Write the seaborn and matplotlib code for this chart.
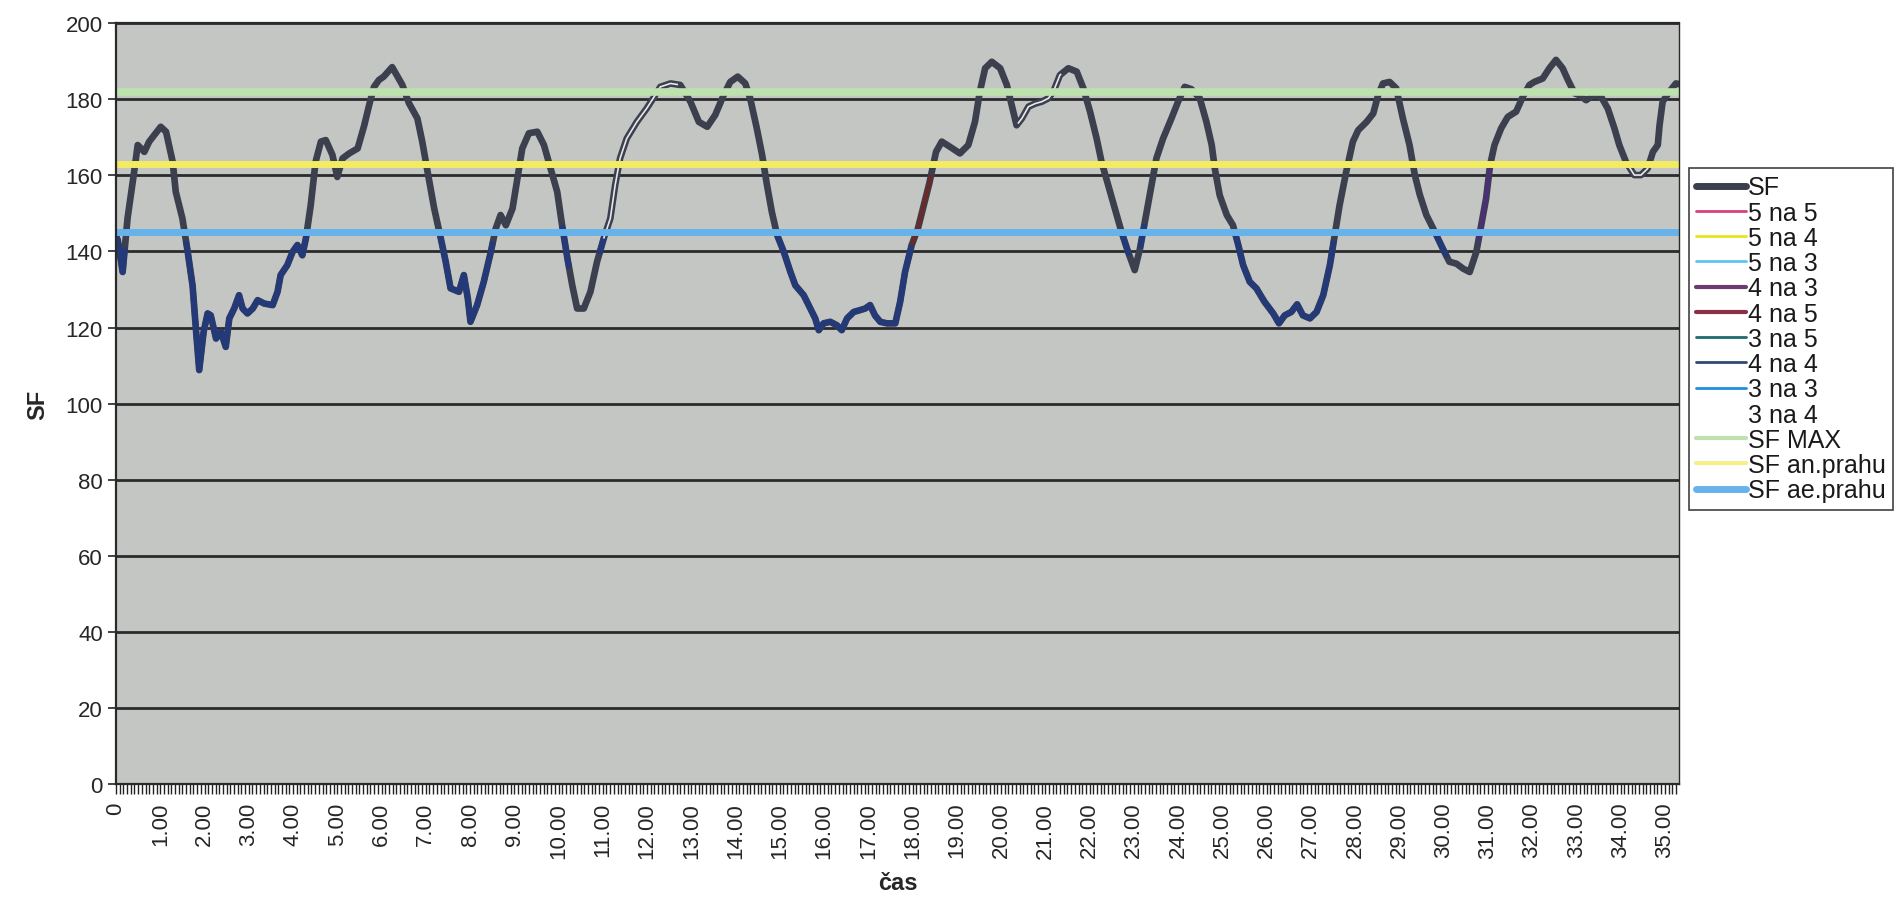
import numpy as np
import pandas as pd
import matplotlib
matplotlib.use("Agg")
import matplotlib.pyplot as plt
from matplotlib.lines import Line2D
from matplotlib.ticker import MultipleLocator
import seaborn as sns

# ---------------- data ----------------
time_min = [
    0.00, 0.04, 0.15, 0.26, 0.41, 0.49, 0.64, 0.75, 1.01, 1.13, 1.28, 1.35, 1.50, 1.62, 1.73, 1.81,
    1.88, 1.98, 2.07, 2.14, 2.26, 2.37, 2.48, 2.56, 2.67, 2.78, 2.86, 2.97, 3.09, 3.20, 3.35, 3.54,
    3.65, 3.72, 3.87, 3.99, 4.10, 4.21, 4.29, 4.40, 4.51, 4.63, 4.74, 4.89, 5.00, 5.12, 5.27, 5.46,
    5.61, 5.72, 5.83, 5.94, 6.05, 6.24, 6.47, 6.62, 6.81, 6.92, 7.04, 7.19, 7.34, 7.45, 7.56, 7.75,
    7.86, 7.95, 8.01, 8.16, 8.31, 8.47, 8.58, 8.69, 8.81, 8.96, 9.07, 9.18, 9.33, 9.52, 9.67, 9.82,
    9.97, 10.08, 10.20, 10.31, 10.42, 10.57, 10.72, 10.87, 11.02, 11.17, 11.28, 11.39, 11.54, 11.77,
    11.99, 12.15, 12.30, 12.53, 12.75, 12.98, 13.17, 13.36, 13.54, 13.73, 13.88, 14.05, 14.22, 14.33,
    14.48, 14.60, 14.71, 14.82, 14.94, 15.09, 15.24, 15.35, 15.54, 15.69, 15.80, 15.88, 15.99, 16.14,
    16.29, 16.40, 16.52, 16.67, 16.82, 16.93, 17.04, 17.15, 17.27, 17.42, 17.61, 17.72, 17.83, 17.98,
    18.12, 18.25, 18.38, 18.47, 18.53, 18.66, 18.85, 19.07, 19.26, 19.41, 19.52, 19.64, 19.79, 19.98,
    20.13, 20.24, 20.35, 20.47, 20.62, 20.77, 20.92, 21.07, 21.18, 21.33, 21.52, 21.71, 21.86, 22.01,
    22.16, 22.27, 22.42, 22.57, 22.72, 22.87, 23.02, 23.14, 23.25, 23.40, 23.51, 23.66, 23.85, 24.00,
    24.15, 24.30, 24.49, 24.64, 24.76, 24.83, 24.94, 25.10, 25.24, 25.36, 25.47, 25.62, 25.77, 25.95,
    26.15, 26.28, 26.41, 26.56, 26.69, 26.82, 26.98, 27.13, 27.28, 27.43, 27.54, 27.65, 27.80, 27.95,
    28.07, 28.26, 28.41, 28.52, 28.63, 28.78, 28.93, 29.08, 29.23, 29.35, 29.46, 29.61, 29.80, 29.98,
    30.13, 30.29, 30.44, 30.59, 30.74, 30.85, 30.96, 31.05, 31.15, 31.30, 31.45, 31.64, 31.79, 31.94,
    32.05, 32.24, 32.39, 32.54, 32.69, 32.81, 32.96, 33.07, 33.22, 33.37, 33.56, 33.71, 33.86, 33.97,
    34.12, 34.31, 34.46, 34.61, 34.73, 34.84, 34.88, 34.95, 35.10, 35.25, 35.33,
]
sf_values = [
    144.0, 143.0, 134.6, 148.7, 161.0, 168.0, 166.2, 168.9, 172.8, 171.5, 163.6, 155.7, 148.7, 139.9, 131.0, 118.9,
    108.8, 118.9, 123.7, 123.2, 117.1, 118.9, 114.9, 122.4, 125.0, 128.5, 125.0, 123.7, 125.0, 127.2, 126.3, 125.9,
    129.4, 133.8, 136.4, 139.9, 141.7, 139.0, 143.4, 152.2, 163.6, 168.9, 169.3, 165.4, 159.6, 164.5, 165.8, 167.1,
    173.2, 178.5, 183.3, 185.1, 186.0, 188.5, 183.8, 179.0, 175.0, 168.9, 161.0, 151.3, 143.4, 137.3, 130.3, 129.4,
    133.8, 127.6, 121.5, 125.9, 132.0, 139.9, 146.0, 149.6, 146.9, 151.3, 159.2, 167.1, 171.1, 171.5, 168.0, 161.8,
    155.7, 146.9, 138.2, 131.1, 125.0, 125.0, 129.4, 137.3, 143.4, 148.7, 157.5, 164.5, 169.7, 174.1,
    177.6, 180.5, 183.3, 184.2, 183.8, 179.4, 174.1, 172.8, 175.9, 181.1, 184.6, 186.0, 184.2, 180.3,
    172.4, 165.4, 157.5, 150.4, 144.3, 139.9, 134.6, 131.1, 128.5, 125.0, 122.4, 119.3, 121.1, 121.5,
    120.6, 119.3, 122.4, 124.1, 124.6, 125.0, 125.9, 123.2, 121.5, 121.1, 121.1, 126.8, 134.6, 141.7,
    146.0, 152.0, 158.0, 163.0, 166.2, 168.9, 167.5, 165.8, 168.0, 174.1, 182.0, 188.2, 189.9, 188.2,
    183.8, 178.5, 173.2, 175.0, 178.1, 178.9, 179.4, 180.3, 182.0, 186.4, 188.2, 187.3, 182.9, 176.8,
    169.7, 163.6, 157.5, 151.3, 145.2, 139.9, 135.1, 140.8, 147.8, 157.5, 164.5, 169.7, 175.0, 179.4,
    183.3, 182.7, 180.3, 174.1, 168.0, 161.8, 154.8, 149.6, 146.9, 141.7, 136.4, 132.0, 130.3, 126.8,
    123.7, 121.1, 123.2, 124.1, 126.1, 123.2, 122.4, 124.1, 128.5, 136.4, 144.3, 152.2, 161.0, 168.9,
    171.9, 174.1, 176.3, 181.1, 184.2, 184.6, 182.9, 175.0, 168.0, 160.1, 155.0, 149.6, 145.2, 140.8,
    137.3, 136.8, 135.5, 134.6, 139.9, 146.9, 153.9, 162.7, 168.0, 172.4, 175.4, 176.8, 180.7, 183.8,
    184.6, 185.5, 188.2, 190.4, 188.2, 185.1, 181.6, 181.1, 179.8, 181.0, 180.7, 177.6, 172.4, 168.0,
    163.6, 160.1, 160.1, 161.8, 166.2, 168.0, 173.2, 179.4, 182.0, 184.2, 184.0,
]

sf_max = 182.0
sf_an_prahu = 163.0
sf_ae_prahu = 145.0

# time ranges (min) where the zone series overlay the SF curve
zone_4na4 = [(0.00, 0.20), (1.58, 4.32), (7.33, 8.52), (10.08, 10.24), (10.92, 11.03),
             (14.94, 17.98), (22.72, 22.90), (23.14, 23.24), (25.28, 27.52), (29.82, 30.08)]
zone_4na5 = [(17.98, 18.42)]
zone_4na3 = [(30.78, 31.06)]
zone_3na4 = [(11.02, 12.70), (20.38, 21.36), (34.12, 34.62)]

x_tick_labels = ["0"] + [f"{i}.00" for i in range(1, 36)]
legend_labels = ["SF", "5 na 5", "5 na 4", "5 na 3", "4 na 3", "4 na 5", "3 na 5",
                 "4 na 4", "3 na 3", "3 na 4", "SF MAX", "SF an.prahu", "SF ae.prahu"]

# ---------------- style ----------------
sns.set_style("white")
plt.rcParams["font.family"] = ["Liberation Sans", "DejaVu Sans"]

C_SF = "#3b3f4e"
C_BG = "#c4c6c4"
C_GRID = "#2b2b2e"
C_MAX = "#bde2ae"
C_AN = "#f3ec62"
C_AE = "#66b3ec"
C_4NA4 = "#243a78"
C_4NA5 = "#6b2a2a"
C_4NA3 = "#4d2f78"

legend_colors = [C_SF, "#d6417e", "#e6e61c", "#5cc6f0", "#6a3d72", "#8a3048", "#1f6a6a",
                 "#2f4a70", "#1f8fe0", "#ffffff", C_MAX, "#f6f08a", C_AE]
legend_widths = [5, 2, 2, 2, 3, 3, 2, 2, 2, 2, 3, 3, 5]

df = pd.DataFrame({"čas": time_min, "SF": sf_values})

fig = plt.figure(figsize=(19.02, 9.03), dpi=100)
ax = fig.add_axes([0.061, 0.131, 0.822, 0.842])
ax.set_facecolor(C_BG)

# gridlines
for yv in range(20, 201, 20):
    ax.axhline(yv, color=C_GRID, lw=2.0, zorder=1)

# main SF line
sns.lineplot(data=df, x="čas", y="SF", ax=ax, color=C_SF, lw=4.8, zorder=3,
             legend=False, solid_capstyle="round", solid_joinstyle="round")

t = np.array(time_min)
v = np.array(sf_values)


def overlay(ranges, color, lw, z=4):
    for a, b in ranges:
        m = (t > a) & (t < b)
        xs = np.concatenate([[a], t[m], [b]])
        ys = np.concatenate([[np.interp(a, t, v)], v[m], [np.interp(b, t, v)]])
        ax.plot(xs, ys, color=color, lw=lw, zorder=z, solid_capstyle="butt")


overlay(zone_4na4, C_4NA4, 4.2)
overlay(zone_4na5, C_4NA5, 3.0)
overlay(zone_4na3, C_4NA3, 3.0)
overlay(zone_3na4, "#e8e8e8", 1.2)

# threshold lines
ax.axhline(sf_max, color=C_MAX, lw=5.5, zorder=5)
ax.axhline(sf_an_prahu, color=C_AN, lw=5.0, zorder=5)
ax.axhline(sf_ae_prahu, color=C_AE, lw=5.0, zorder=5)

# axes
ax.set_xlim(0, 35.33)
ax.set_ylim(0, 200)
ax.set_yticks(range(0, 201, 20))
ax.set_xticks(range(0, 36))
ax.set_xticklabels(x_tick_labels, rotation=90)
ax.xaxis.set_minor_locator(MultipleLocator(1 / 12))
ax.tick_params(axis="x", which="both", direction="out", length=7, width=1, color="#222222",
               labelsize=16, pad=6, bottom=True)
ax.tick_params(axis="y", which="major", direction="out", length=6, width=1.2, color="#222222",
               labelsize=16, left=True)
for s in ax.spines.values():
    s.set_color("#2a2a2a")
    s.set_linewidth(1.6)
    s.set_zorder(6)
ax.spines["right"].set_linewidth(1.0)

ax.set_xlabel("čas", fontsize=17, fontweight="bold", labelpad=10)
ax.set_ylabel("SF", fontsize=17, fontweight="bold", labelpad=12)

# legend
handles = [Line2D([0], [0], color=c, lw=w) for c, w in zip(legend_colors, legend_widths)]
leg = fig.legend(handles, legend_labels, loc="upper left", bbox_to_anchor=(0.888, 0.813),
                 frameon=True, fancybox=False, fontsize=18, handlelength=2.0,
                 handletextpad=0.06, labelspacing=0.05, borderpad=0.3, borderaxespad=0)
leg.get_frame().set_edgecolor("#111111")
leg.get_frame().set_linewidth(1.2)
for txt in leg.get_texts():
    txt.set_color("#1a1a1a")

fig.savefig("out.png", dpi=100, facecolor="white")
